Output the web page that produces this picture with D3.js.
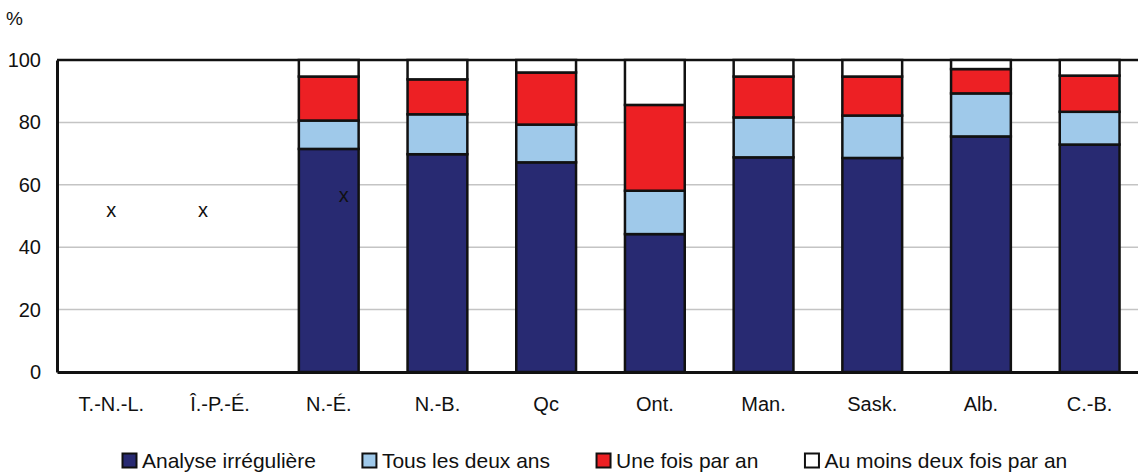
<!DOCTYPE html>
<html>
<head>
<meta charset="utf-8">
<script src="https://cdn.jsdelivr.net/npm/d3@7"></script>
<style>
  body { margin: 0; background: #fff; }
  text { font-family: "Liberation Sans", Arial, Helvetica, sans-serif; fill: #111; }
</style>
</head>
<body>
<svg id="chart"></svg>
<script>
const outerWidth = 1138;
const outerHeight = 474;
const margin = { top: 60, left: 57 };
const plotRight = 1144;   // last band runs slightly past the window edge
const plotBottom = 372;

// data (percent)
const provinces = ["T.-N.-L.", "Î.-P.-É.", "N.-É.", "N.-B.", "Qc", "Ont.", "Man.", "Sask.", "Alb.", "C.-B."];
const irregular     = [null, null, 71.5, 69.8, 67.2, 44.2, 68.8, 68.6, 75.5, 72.9];
const everyTwoYears = [null, null,  9.1, 12.8, 12.1, 13.9, 12.8, 13.6, 13.8, 10.5];
const oncePerYear   = [null, null, 14.1, 11.2, 16.7, 27.5, 13.1, 12.5,  7.8, 11.6];
const twicePerYear  = [null, null,  5.3,  6.2,  4.0, 14.4,  5.3,  5.3,  2.9,  5.0];
const suppressed    = ["x", "x", "x", "", "", "", "", "", "", ""];
const yTickValues = [0, 20, 40, 60, 80, 100];

const seriesNames = ["Analyse irrégulière", "Tous les deux ans", "Une fois par an", "Au moins deux fois par an"];
const seriesColors = ["#282a72", "#9fc9ea", "#ed2024", "#ffffff"];

const rows = provinces.map((p, i) => ({
    province: p,
    [seriesNames[0]]: irregular[i] ?? 0,
    [seriesNames[1]]: everyTwoYears[i] ?? 0,
    [seriesNames[2]]: oncePerYear[i] ?? 0,
    [seriesNames[3]]: twicePerYear[i] ?? 0
}));

const svg = d3.select("#chart")
    .attr("width", outerWidth)
    .attr("height", outerHeight);

const x = d3.scaleBand().domain(provinces).range([margin.left, plotRight]).padding(0);
const y = d3.scaleLinear().domain([0, 100]).range([plotBottom, margin.top]);
const color = d3.scaleOrdinal().domain(seriesNames).range(seriesColors);

const barWidth = x.bandwidth() * 0.55;
const barOffset = (x.bandwidth() - barWidth) / 2;

// grid
svg.append("g")
    .selectAll("line")
    .data(yTickValues.filter(v => v > 0 && v < 100))
    .enter().append("line")
    .attr("x1", margin.left)
    .attr("x2", plotRight)
    .attr("y1", d => y(d))
    .attr("y2", d => y(d))
    .attr("stroke", "#c4c4c4")
    .attr("stroke-width", 1.5);

// top frame line
svg.append("line")
    .attr("x1", margin.left).attr("x2", plotRight)
    .attr("y1", y(100)).attr("y2", y(100))
    .attr("stroke", "#111").attr("stroke-width", 2.5);

const stacked = d3.stack().keys(seriesNames)(rows);

svg.selectAll(".layer")
    .data(stacked)
    .enter().append("g")
    .attr("class", "layer")
    .attr("fill", d => color(d.key))
    .selectAll("rect")
    .data(d => d.filter(s => s[1] - s[0] > 0))
    .enter().append("rect")
    .attr("x", d => x(d.data.province) + barOffset)
    .attr("y", d => y(d[1]))
    .attr("width", barWidth)
    .attr("height", d => y(d[0]) - y(d[1]))
    .attr("stroke", "#111")
    .attr("stroke-width", 2.5);

// axes
const yAxis = svg.append("g")
    .attr("transform", `translate(${margin.left},0)`)
    .call(d3.axisLeft(y).tickValues(yTickValues).tickSize(0).tickPadding(16));
yAxis.select(".domain").attr("stroke", "#111").attr("stroke-width", 3);
yAxis.selectAll("text").style("font-size", "20px").style("font-family", "Liberation Sans, Arial, sans-serif").attr("fill", "#111");

const xAxis = svg.append("g")
    .attr("transform", `translate(0,${plotBottom})`)
    .call(d3.axisBottom(x).tickSize(0).tickPadding(25));
xAxis.select(".domain").attr("stroke", "#111").attr("stroke-width", 3);
xAxis.selectAll("text").style("font-size", "20px").style("font-family", "Liberation Sans, Arial, sans-serif").attr("fill", "#111");

// "%" unit
svg.append("text")
    .attr("x", 6)
    .attr("y", 25)
    .style("font-size", "19px")
    .text("%");

// suppressed-value markers
const markNudge = { "Î.-P.-É.": [-17, 0], "N.-É.": [15, -15] };
svg.append("g")
    .selectAll("text")
    .data(provinces.map((p, i) => ({ p, mark: suppressed[i] })).filter(d => d.mark))
    .enter().append("text")
    .attr("x", d => x(d.p) + x.bandwidth() / 2 + (markNudge[d.p] ? markNudge[d.p][0] : 0))
    .attr("y", d => y(51.5) + (markNudge[d.p] ? markNudge[d.p][1] : 0))
    .attr("text-anchor", "middle")
    .attr("dominant-baseline", "middle")
    .style("font-size", "20px")
    .text(d => d.mark);

// legend
const legend = svg.append("g").attr("transform", "translate(122, 453)");
const box = 14;
let lx = 0;
seriesNames.forEach((name, i) => {
    const item = legend.append("g").attr("transform", `translate(${lx},0)`);
    item.append("rect")
        .attr("x", 0.5).attr("y", 0.5)
        .attr("width", box).attr("height", box)
        .attr("fill", seriesColors[i])
        .attr("stroke", "#111")
        .attr("stroke-width", 2);
    const t = item.append("text")
        .attr("x", box + 6)
        .attr("y", 15)
        .style("font-size", "21px")
        .text(name);
    lx += box + 6 + t.node().getComputedTextLength() + 46;
});
</script>
</body>
</html>
